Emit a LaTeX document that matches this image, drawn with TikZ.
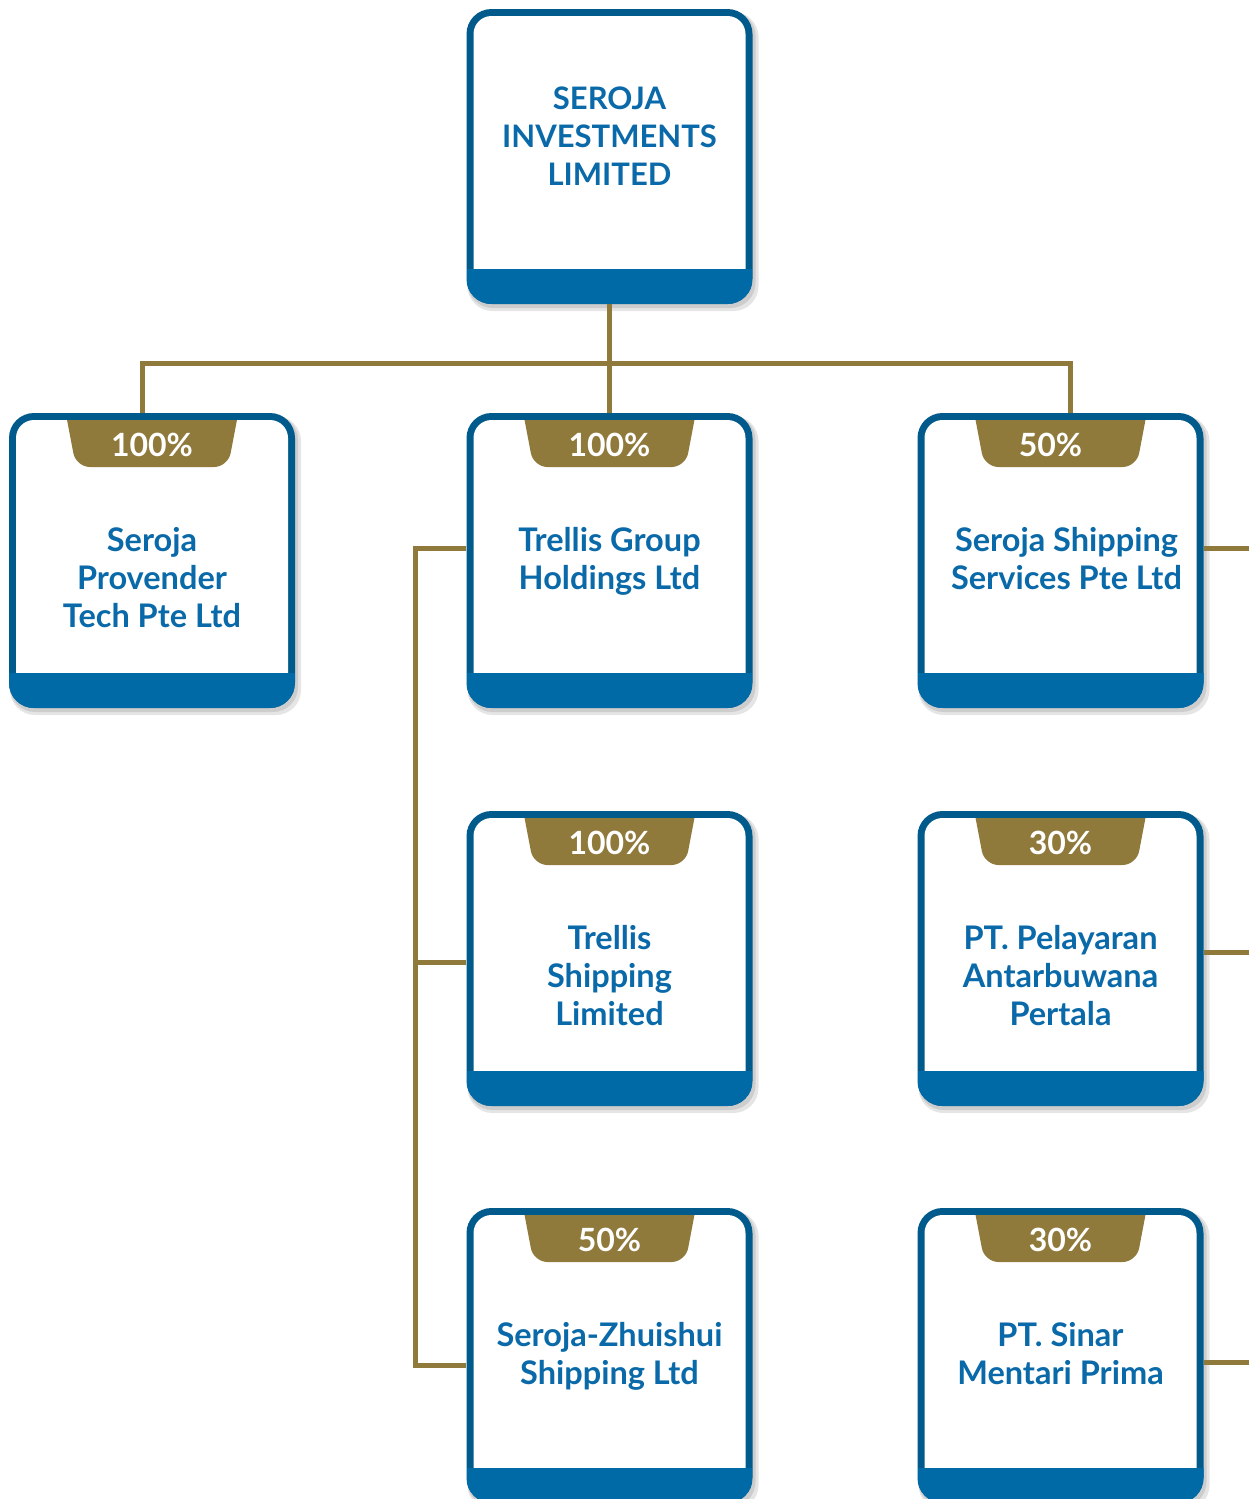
\documentclass[tikz,border=0pt]{standalone}
\usepackage{fontspec}
\setmainfont{Lato}
\definecolor{bdr}{HTML}{005A8B}
\definecolor{band}{HTML}{006AA7}
\definecolor{txt}{HTML}{0A69A8}
\definecolor{gold}{HTML}{8F7A3C}
\tikzset{
  outerbox/.style={fill=bdr, rounded corners=25pt, minimum width=286pt, minimum height=295pt, inner sep=0pt},
  nametxt/.style={text=txt, font=\bfseries\fontsize{32.5}{38}\selectfont, align=center, inner sep=0pt},
  toptxt/.style={text=txt, font=\bfseries\fontsize{31}{38}\selectfont, align=center, inner sep=0pt},
  pcttxt/.style={text=white, font=\bfseries\fontsize{32}{36}\selectfont, inner sep=0pt},
  conn/.style={draw=gold, line width=5pt}
}
% #1 name, #2 centre x, #3 top y, #4 text, #5 text offset, #6 text style, #7 text x shift
\newcommand\orgbox[7]{%
  \pgfmathsetmacro\xa{#2-143}\pgfmathsetmacro\xb{#2+143}%
  \pgfmathsetmacro\ya{#3}\pgfmathsetmacro\yb{#3+295}%
  \fill[black,opacity=.10,rounded corners=25pt] (\xa+1,\ya+3) rectangle (\xb+6,\yb+7);
  \fill[black,opacity=.10,rounded corners=25pt] (\xa+1,\ya+2) rectangle (\xb+3,\yb+4);
  \node[outerbox] (#1) at (#2,{#3+147.5}) {};
  \fill[white,rounded corners=18pt] (\xa+7,\ya+7) rectangle (\xb-7,\yb-7);
  \begin{scope}
    \clip[rounded corners=25pt] (\xa,\ya) rectangle (\xb,\yb);
    \fill[band] (\xa,\yb-35) rectangle (\xb,\yb);
  \end{scope}
  \node[#6, anchor=north] (#1-t) at (#2+#7,\ya+#5) {#4};
}
% #1 name, #2 centre x, #3 top y, #4 percentage, #5 text x shift
\newcommand\pcttab[5]{%
  \begin{scope}
    \clip (#2-120,#3+7) rectangle (#2+120,#3+80);
    \fill[gold, rounded corners=14pt] (#2-92,#3-30) -- (#2-76,#3+54) -- (#2+76,#3+54) -- (#2+92,#3-30) -- cycle;
  \end{scope}
  \node[pcttxt] (#1) at (#2+#5,#3+32) {#4};
}
\begin{document}
\begin{tikzpicture}[x=1pt,y=-1pt]
\useasboundingbox (0,0) rectangle (1249,1499);
\fill[white] (0,0) rectangle (1249,1499);

\coordinate (bus) at (609.5,363);
\coordinate (r1) at (1252,548);
\coordinate (r2) at (1252,952);
\coordinate (r3) at (1252,1362);

% boxes
\orgbox{top}{609.5}{9}{SEROJA\\INVESTMENTS\\LIMITED}{77.5}{toptxt}{0}
\orgbox{spt}{152}{413}{Seroja\\Provender\\Tech Pte Ltd}{114.5}{nametxt}{0}
\pcttab{spt-p}{152}{413}{100\%}{0}
\orgbox{tgh}{609.5}{413}{Trellis Group\\Holdings Ltd}{114.5}{nametxt}{0}
\pcttab{tgh-p}{609.5}{413}{100\%}{0}
\orgbox{sss}{1060.5}{413}{Seroja Shipping\\Services Pte Ltd}{114.5}{nametxt}{6}
\pcttab{sss-p}{1060.5}{413}{50\%}{-10}
\orgbox{tsl}{609.5}{811}{Trellis\\Shipping\\Limited}{114.5}{nametxt}{0}
\pcttab{tsl-p}{609.5}{811}{100\%}{0}
\orgbox{ppa}{1060.5}{811}{PT. Pelayaran\\Antarbuwana\\Pertala}{114.5}{nametxt}{0}
\pcttab{ppa-p}{1060.5}{811}{30\%}{0}
\orgbox{szs}{609.5}{1208}{Seroja-Zhuishui\\Shipping Ltd}{114.5}{nametxt}{0}
\pcttab{szs-p}{609.5}{1208}{50\%}{0}
\orgbox{psm}{1060.5}{1208}{PT. Sinar\\Mentari Prima}{114.5}{nametxt}{0}
\pcttab{psm-p}{1060.5}{1208}{30\%}{0}

% connectors
\draw[conn] (top.south) -- (tgh.north);
\draw[conn] ([xshift=-10pt]spt.north) |- (bus) -| ([xshift=9.5pt]sss.north);
\draw[conn] ([yshift=12.5pt]tgh.west) -- ++(-51pt,0) |- ([yshift=-9.5pt]szs.west);
\draw[conn] ([yshift=-4pt]tsl.west) -- ++(-53.5pt,0);
\draw[conn] (sss.east |- r1) -- (r1);
\draw[conn] (ppa.east |- r2) -- (r2);
\draw[conn] (psm.east |- r3) -- (r3);
\end{tikzpicture}
\end{document}
